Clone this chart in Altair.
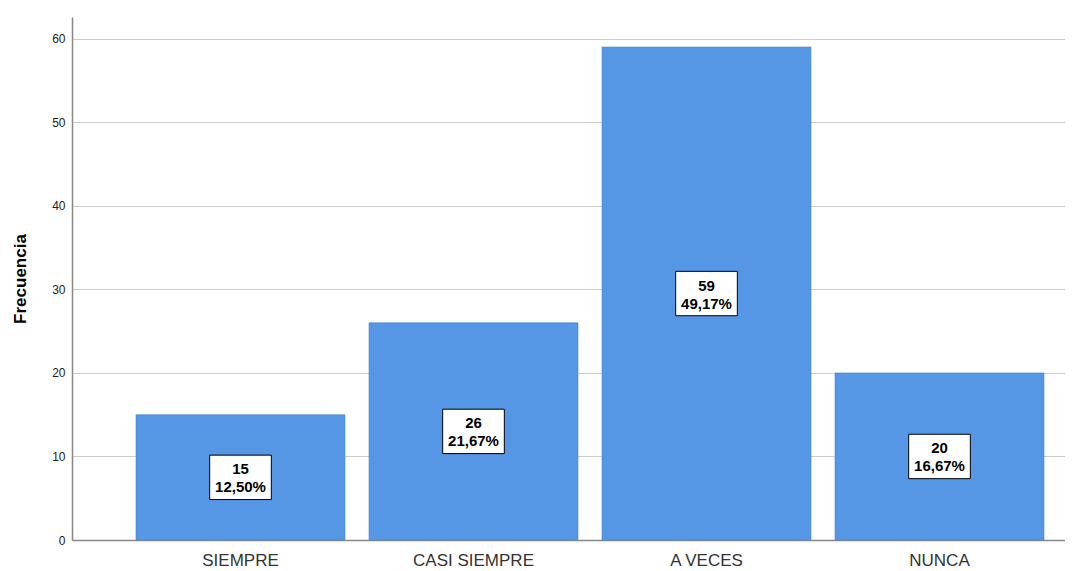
import altair as alt
import pandas as pd

categories = ["SIEMPRE", "CASI SIEMPRE", "A VECES", "NUNCA"]
counts = [15, 26, 59, 20]
percents = ["12,50%", "21,67%", "49,17%", "16,67%"]

df = pd.DataFrame({
    "cat": categories,
    "n": counts,
    "pct": percents,
})
df["half"] = df["n"] / 2
df["label"] = df["n"].astype(str) + "\n" + df["pct"]

FONT = "Liberation Sans"

xscale = alt.Scale(paddingInner=0.103, paddingOuter=0.1824, align=0.753)

x = alt.X("cat:N", sort=categories, title=None, scale=xscale,
          axis=alt.Axis(labelAngle=0, labelFontSize=17, labelColor="#333333",
                        labelFont=FONT, ticks=False, domainColor="#888888",
                        domainWidth=1.5, labelPadding=12, grid=False))

bars = alt.Chart(df).mark_bar(color="#5596e5", stroke="#4a86cf", strokeWidth=0.6).encode(
    x=x,
    y=alt.Y("n:Q", title="Frecuencia",
            scale=alt.Scale(domain=[0, 62.6], nice=False),
            axis=alt.Axis(values=[0, 10, 20, 30, 40, 50, 60], ticks=False,
                          labelFontSize=12, labelFont=FONT, labelColor="#222222",
                          labelPadding=7, domainColor="#888888", domainWidth=1.5,
                          gridColor="#cccccc", gridWidth=1.2,
                          titleFont=FONT, titleFontSize=17, titleFontWeight="bold",
                          titleColor="#000000", titlePadding=22)),
)

boxes = alt.Chart(df).mark_point(
    shape="M-1,-0.72L1,-0.72L1,0.72L-1,0.72Z",
    filled=True, fill="white", stroke="black", strokeWidth=1, opacity=1, size=3800,
).encode(x=alt.X("cat:N", sort=categories), y=alt.Y("half:Q"))

texts = alt.Chart(df).mark_text(
    font=FONT, fontSize=15, fontWeight="bold", color="black",
    lineBreak="\n", baseline="middle", align="center", lineHeight=18, dy=-8,
).encode(x=alt.X("cat:N", sort=categories), y=alt.Y("half:Q"), text="label:N")

chart = (bars + boxes + texts).properties(
    width=993, height=523, background="white",
    padding={"left": 3, "top": 9, "right": 0, "bottom": 0},
).configure_view(stroke=None)

chart.save("out.html", embed_options={"renderer": "svg", "actions": False})
